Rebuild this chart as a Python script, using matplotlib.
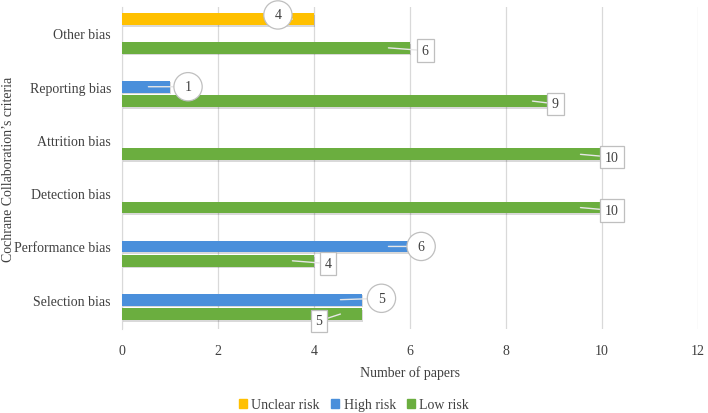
import numpy as np
import matplotlib.pyplot as plt
from matplotlib.patches import Rectangle

plt.rcParams['font.family'] = ['Liberation Serif', 'DejaVu Serif']

categories = ["Selection bias", "Performance bias", "Detection bias",
              "Attrition bias", "Reporting bias", "Other bias"]
series_names = ["Unclear risk", "High risk", "Low risk"]
unclear = [0, 0, 0, 0, 0, 4]
high = [5, 6, 0, 0, 1, 0]
low = [5, 4, 10, 10, 9, 6]
xticks = [0, 2, 4, 6, 8, 10, 12]

colors = ["#FFC000", "#4A8FDB", "#6BAE3F"]
offsets = [0.27, 0.0, -0.27]
bar_h = 0.22

fig = plt.figure(figsize=(7.08, 4.14), dpi=100)
ax = fig.add_axes([0.1723, 0.203, 0.8137, 0.778])

y = np.arange(len(categories))
all_vals = [unclear, high, low]

for vals, c, off, name in zip(all_vals, colors, offsets, series_names):
    vals = np.array(vals, dtype=float)
    mask = vals > 0
    # soft shadow under bars
    ax.barh(y[mask] + off - 0.03, vals[mask] + 0.03, height=bar_h, color="#000000",
            alpha=0.15, zorder=2, linewidth=0)
    ax.barh(y[mask] + off, vals[mask], height=bar_h, color=c, zorder=3,
            linewidth=0, label=name)

# data labels: (series index, category index, offset in points, style)
circle = dict(boxstyle="circle,pad=0.55", fc="white", ec="#bfbfbf", lw=0.9)
square = dict(boxstyle="square,pad=0.35", fc="white", ec="#bfbfbf", lw=0.9)
leader = dict(arrowstyle="-", color="#e6e6e6", lw=1.0, shrinkA=0, shrinkB=0)

labels = [
    (0, 5, (-26, 3), circle),
    (2, 5, (11, -2), square),
    (1, 4, (13, 0), circle),
    (2, 4, (1, -2), square),
    (2, 3, (7, -2), square),
    (2, 2, (7, -2), square),
    (1, 1, (8, 0), circle),
    (2, 1, (10, -2), square),
    (1, 0, (14, 1), circle),
    (2, 0, (-31, -5), square),
]
for si, ci, (dx, dy), box in labels:
    v = all_vals[si][ci]
    yy = y[ci] + offsets[si]
    ax.annotate(str(v), xy=(v - 0.45, yy), xytext=(dx + 0.45 * 48 * 0.72, dy),
                textcoords="offset points", ha="center", va="center",
                fontsize=10, color="#404040", bbox=box, zorder=6,
                arrowprops=leader)

ax.set_xlim(0, 12)
ax.set_ylim(-0.55, 5.5)
ax.set_xticks(xticks)
ax.set_xticklabels([str(t) for t in xticks], fontsize=10, color="#404040")
ax.set_yticks(y)
ax.set_yticklabels(categories, fontsize=10, color="#404040")
ax.tick_params(axis="y", length=0, pad=8)
ax.tick_params(axis="x", length=0, pad=11)
ax.grid(axis="x", color="#d9d9d9", lw=0.9, zorder=0)
ax.set_axisbelow(True)
for s in ["top", "right", "bottom"]:
    ax.spines[s].set_visible(False)
ax.spines["left"].set_color("#d9d9d9")

ax.set_xlabel("Number of papers", fontsize=10, color="#404040", labelpad=6)
fig.text(0.012, 0.59, "Cochrane Collaboration\u2019s criteria", rotation=90,
         ha="center", va="center", fontsize=10, color="#404040")

handles = [Rectangle((0, 0), 1, 1, color=c) for c in colors]
fig.legend(handles, series_names, loc="center", bbox_to_anchor=(0.5, 0.02),
           ncol=3, frameon=False, fontsize=10, handlelength=0.6, handleheight=0.6,
           handletextpad=0.3, columnspacing=0.8, labelcolor="#404040")

fig.savefig("out.png", dpi=100)
